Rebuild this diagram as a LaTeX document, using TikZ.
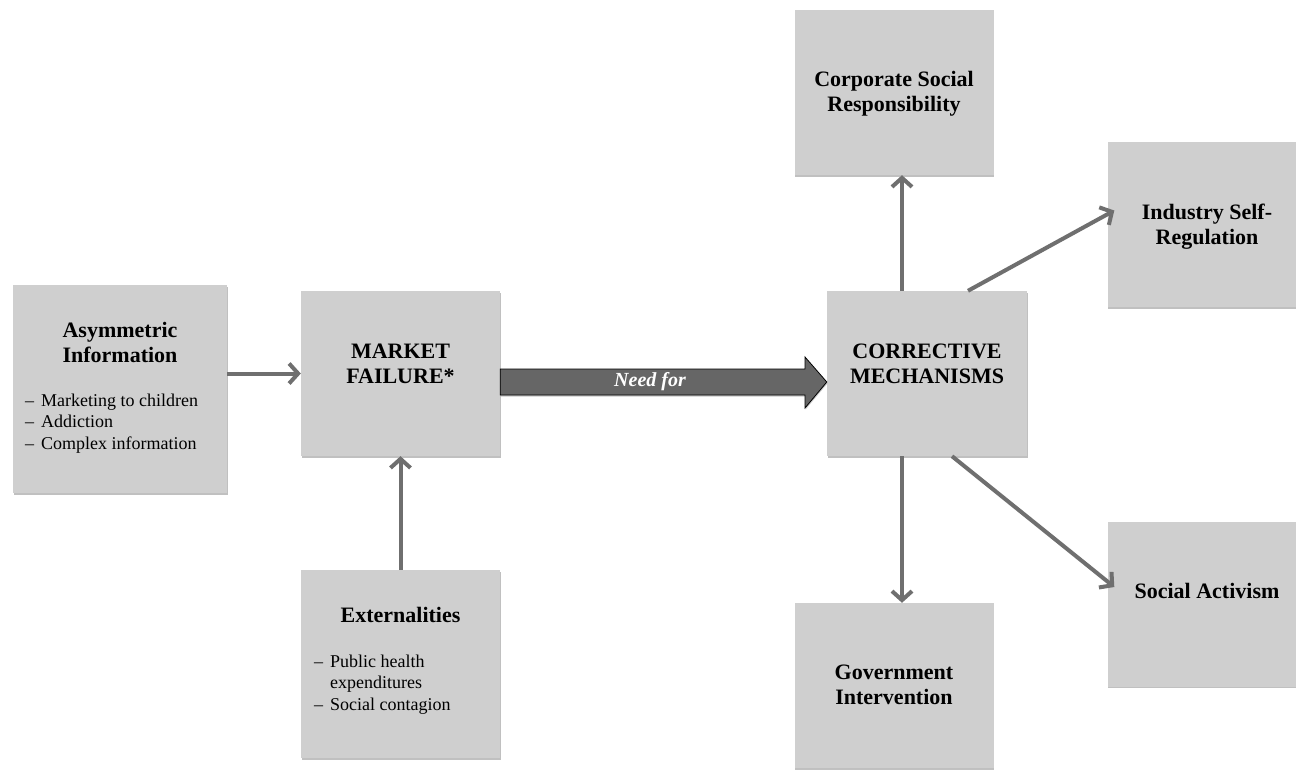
\documentclass[tikz,border=0pt]{standalone}
\usepackage{fontspec}
\setmainfont{Liberation Serif}
\usetikzlibrary{arrows.meta,shadows,calc}
\definecolor{boxgray}{HTML}{CFCFCF}
\definecolor{arrowgray}{HTML}{6F6F6F}
\definecolor{needgray}{HTML}{666666}
\begin{document}
\begin{tikzpicture}[x=1pt,y=-1pt,
 box/.style={fill=boxgray, draw=none, minimum width=199pt, minimum height=165pt, inner sep=0pt,
   drop shadow={shadow xshift=0.6pt, shadow yshift=-1.8pt, fill=black!70, opacity=0.35}},
 ttl/.style={anchor=north, align=center, inner sep=0pt, font=\fontsize{22}{25}\selectfont\bfseries},
 lst/.style={anchor=north west, inner sep=0pt, font=\fontsize{18}{21.5}\selectfont},
 conn/.style={draw=arrowgray, line width=4pt, -{Straight Barb[length=9pt,width=20pt]}},
 needarrow/.style={fill=needgray, draw=black, line width=0.8pt,
   drop shadow={shadow xshift=0.6pt, shadow yshift=-1.5pt, fill=black!70, opacity=0.3}},
]
\useasboundingbox (0,0) rectangle (1296,769);
\fill[white] (0,0) rectangle (1296,769);

% boxes
\node[box, minimum width=214pt, minimum height=208pt] (asym) at (120,389) {};
\node[box] (mf)  at (400.5,373.5) {};
\node[box, minimum height=188pt] (ext) at (400.5,664) {};
\node[box, minimum width=200pt] (cm)  at (927,373.5) {};
\node[box] (csr) at (894,92.5) {};
\node[box] (ind) at (1207,224.5) {};
\node[box] (sa)  at (1207,604) {};
\node[box] (gov) at (894,685.5) {};

% titles
\node[ttl] (asymt) at (120,322) {Asymmetric\\Information};
\node[ttl] (mft)   at (400.5,344) {MARKET\\FAILURE*};
\node[ttl] (cmt)   at (927,344) {CORRECTIVE\\MECHANISMS};
\node[ttl] (csrt)  at (894,71) {Corporate Social\\Responsibility};
\node[ttl] (indt)  at (1207,204) {Industry Self-\\Regulation};
\node[ttl] (sat)   at (1207,583) {Social Activism};
\node[ttl] (govt)  at (894,665) {Government\\Intervention};
\node[ttl] (extt)  at (400.5,607) {Externalities};

% lists
\node[lst] (asyml) at (25,391) {\begin{tabular}{@{}l@{\hspace{7pt}}l@{}}–&Marketing to children\\–&Addiction\\–&Complex information\end{tabular}};
\node[lst] (extl) at (314,652) {\begin{tabular}{@{}l@{\hspace{7pt}}l@{}}–&Public health\\&expenditures\\–&Social contagion\end{tabular}};

% connectors
\draw[conn] (asym.east |- mf.west) -- (mf.west);
\draw[conn] (ext.north) -- (mf.south);
\draw[conn] ([xshift=-25pt]cm.north) -- ([xshift=-25pt]cm.north |- csr.south);
\draw[conn] ([xshift=-25pt]cm.south) -- ([xshift=-25pt]cm.south |- gov.north);
\draw[conn] ([xshift=41pt]cm.north) -- ([xshift=7pt,yshift=14pt]ind.west);
\draw[conn] ([xshift=25pt]cm.south) -- ([xshift=7pt,yshift=17pt]sa.west);

% need for arrow
\draw[needarrow] (mf.east |- 0,369) -- (805,369) -- (805,357) -- (cm.west |- 0,382)
  -- (805,408) -- (805,395) -- (mf.east |- 0,395) -- cycle;
\node[text=white, font=\fontsize{20}{22}\selectfont\bfseries\itshape] (needt) at (650,382) {Need for};
\end{tikzpicture}
\end{document}
